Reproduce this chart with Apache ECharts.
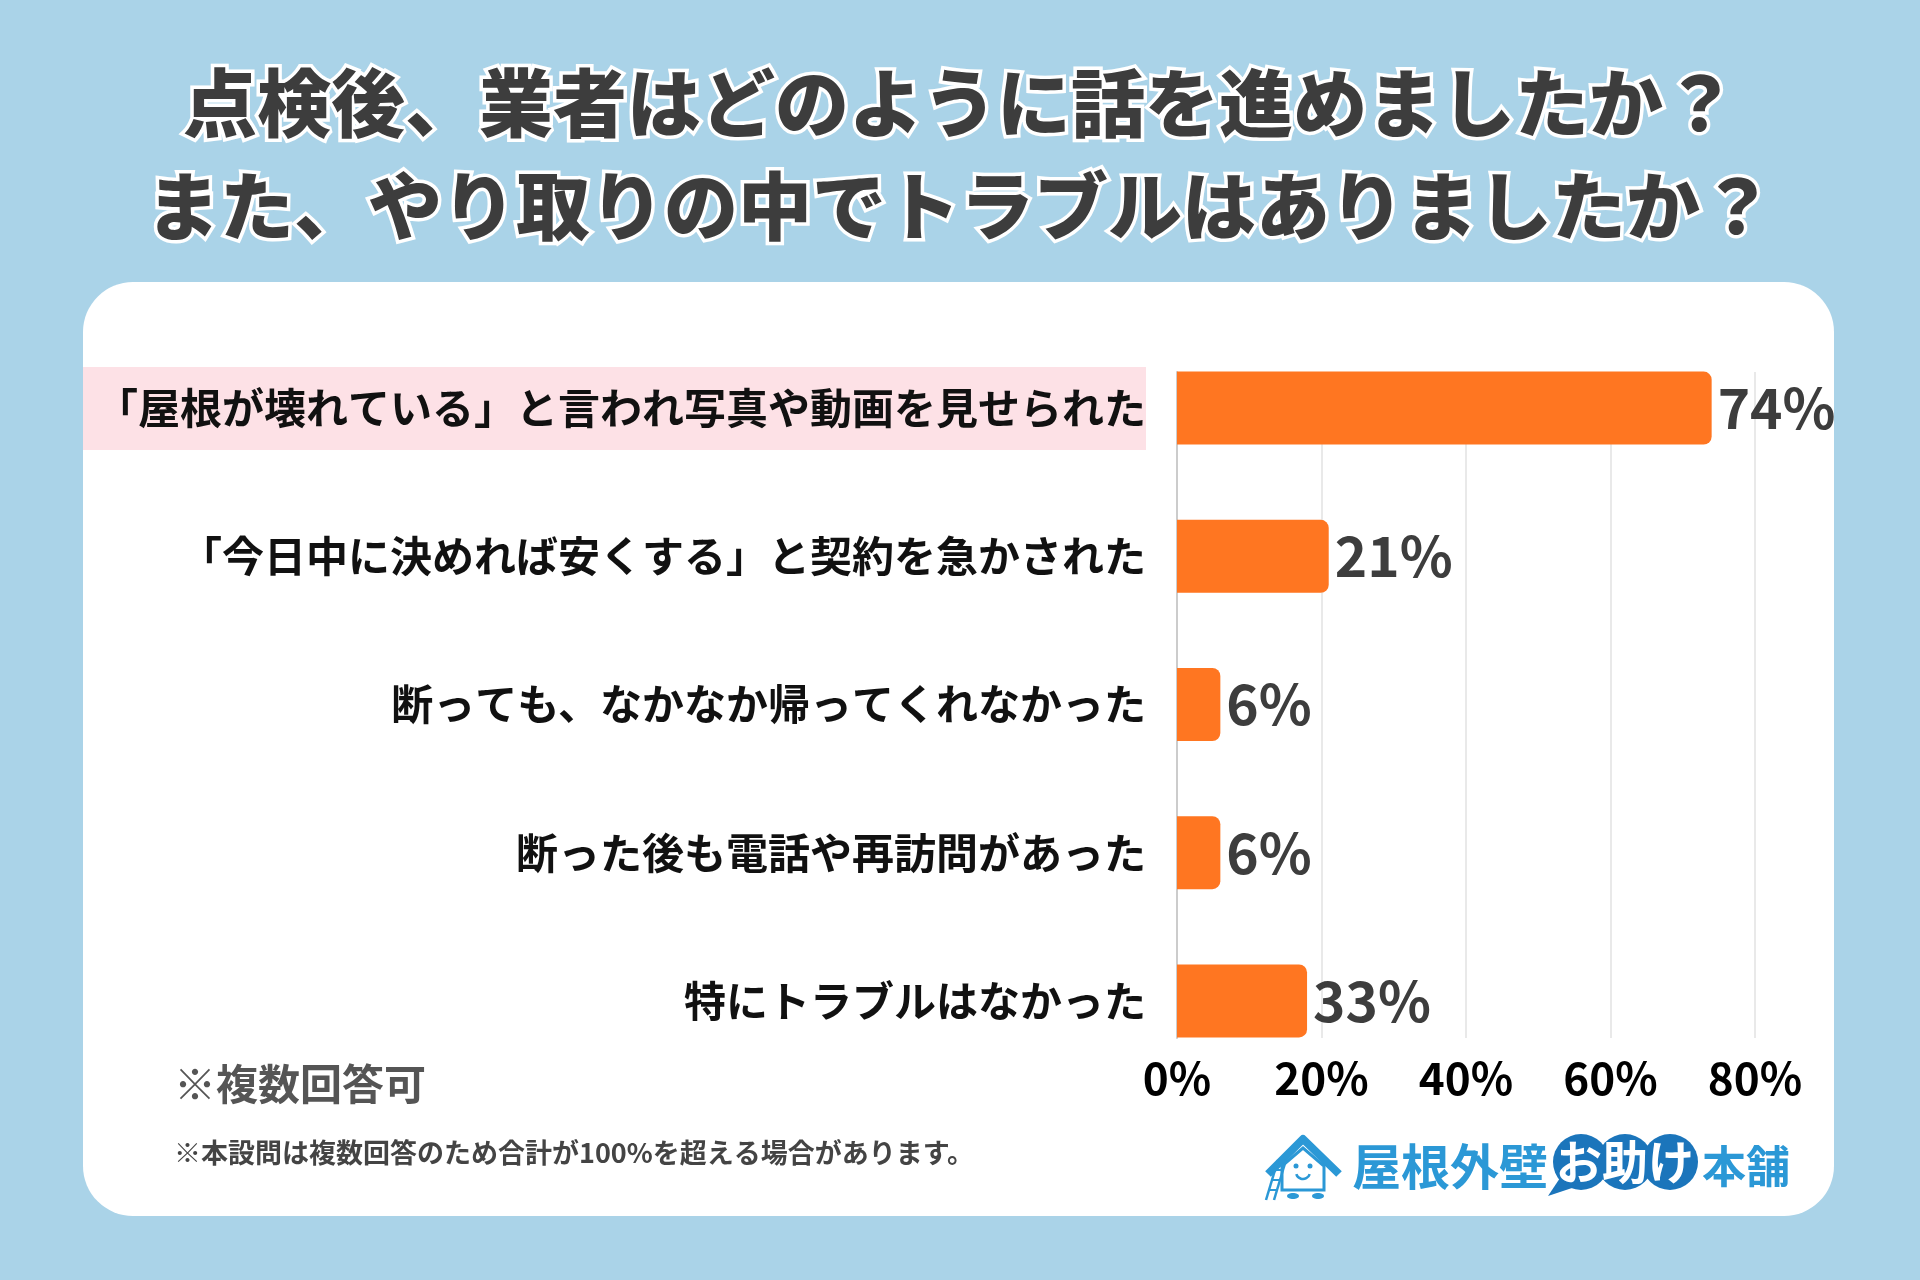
<!DOCTYPE html>
<html>
<head>
<meta charset="utf-8">
<script src="https://cdn.jsdelivr.net/npm/echarts@6/dist/echarts.min.js"></script>
<style>
html,body{margin:0;padding:0;background:#aad3e8;}
#chart{width:1920px;height:1280px;}
</style>
</head>
<body>
<div id="chart"></div>
<script>
// ---- data ----
const categories = [
  '「屋根が壊れている」と言われ写真や動画を見せられた',
  '「今日中に決めれば安くする」と契約を急かされた',
  '断っても、なかなか帰ってくれなかった',
  '断った後も電話や再訪問があった',
  '特にトラブルはなかった'
];
// bar lengths as drawn in the reference (percent of axis)
const barLengths = [74, 21, 6, 6, 18];
// values printed next to each bar (percent)
const printedValues = [74, 21, 6, 6, 33];
const axisMin = 0, axisMax = 80, axisStep = 20;
const titleLines = ['点検後、業者はどのように話を進めましたか？', 'また、やり取りの中でトラブルはありましたか？'];
const noteMain = '※複数回答可';
const noteSub = '※本設問は複数回答のため合計が100%を超える場合があります。';

const FONT = '"Noto Sans CJK JP", "Noto Sans", sans-serif';
const chart = echarts.init(document.getElementById('chart'), null, {renderer: 'canvas'});

const blue = '#2b98d6';
const darkBlue = '#1b75bb';

chart.setOption({
  backgroundColor: '#aad3e8',
  animation: false,
  title: titleLines.map((t, i) => ({
    text: t,
    left: 'center',
    top: i === 0 ? 55 : 158,
    textStyle: {
      fontFamily: FONT, fontSize: 74, fontWeight: 900, color: '#3d3d3d',
      textBorderColor: '#ffffff', textBorderWidth: 7, lineHeight: 86
    }
  })),
  graphic: [
    {type: 'rect', z: -10, shape: {x: 83, y: 282, width: 1751, height: 934, r: 50}, style: {fill: '#ffffff'}},
    {type: 'rect', z: -9, shape: {x: 83, y: 367, width: 1063, height: 83}, style: {fill: '#fde1e6'}},
    {type: 'text', style: {x: 174, y: 1084, text: noteMain, font: 'bold 42px ' + FONT, fill: '#555555', textVerticalAlign: 'middle'}},
    {type: 'text', style: {x: 174, y: 1153, text: noteSub, font: 'bold 27px ' + FONT, fill: '#444444', textVerticalAlign: 'middle'}},
    // logo
    {type: 'group', children: [
      {type: 'polyline', shape: {points: [[1268,1174],[1303,1139],[1339,1174]]}, style: {stroke: blue, lineWidth: 8, fill: null, lineJoin: 'round'}},
      {type: 'polygon', shape: {points: [[1282,1166],[1303,1148],[1324,1166],[1324,1190],[1282,1190]]}, style: {fill: '#fff', stroke: blue, lineWidth: 3}},
      {type: 'circle', shape: {cx: 1296, cy: 1166, r: 2.5}, style: {fill: blue}},
      {type: 'circle', shape: {cx: 1310, cy: 1166, r: 2.5}, style: {fill: blue}},
      {type: 'arc', shape: {cx: 1303, cy: 1172, r: 7, startAngle: 0.3, endAngle: Math.PI - 0.3}, style: {stroke: blue, lineWidth: 2.5, fill: null}},
      {type: 'line', shape: {x1: 1266, y1: 1200, x2: 1278, y2: 1160}, style: {stroke: blue, lineWidth: 2.5}},
      {type: 'line', shape: {x1: 1274, y1: 1200, x2: 1286, y2: 1160}, style: {stroke: blue, lineWidth: 2.5}},
      {type: 'line', shape: {x1: 1269, y1: 1190, x2: 1277, y2: 1190}, style: {stroke: blue, lineWidth: 2}},
      {type: 'line', shape: {x1: 1272, y1: 1180, x2: 1280, y2: 1180}, style: {stroke: blue, lineWidth: 2}},
      {type: 'line', shape: {x1: 1275, y1: 1170, x2: 1283, y2: 1170}, style: {stroke: blue, lineWidth: 2}},
      {type: 'ellipse', shape: {cx: 1293, cy: 1196, rx: 6, ry: 3}, style: {fill: blue}},
      {type: 'ellipse', shape: {cx: 1318, cy: 1196, rx: 6, ry: 3}, style: {fill: blue}},
      {type: 'text', style: {x: 1352, y: 1166, text: '屋根外壁', font: 'bold 49px ' + FONT, fill: blue, textVerticalAlign: 'middle'}},
      {type: 'circle', shape: {cx: 1581, cy: 1162, r: 28}, style: {fill: darkBlue}},
      {type: 'circle', shape: {cx: 1625, cy: 1162, r: 28}, style: {fill: darkBlue}},
      {type: 'circle', shape: {cx: 1670, cy: 1162, r: 28}, style: {fill: darkBlue}},
      {type: 'polygon', shape: {points: [[1560,1178],[1578,1186],[1548,1196]]}, style: {fill: darkBlue}},
      {type: 'text', style: {x: 1625, y: 1162, text: 'お助け', font: 'bold 46px ' + FONT, fill: '#ffffff', textAlign: 'center', textVerticalAlign: 'middle'}},
      {type: 'text', style: {x: 1702, y: 1166, text: '本舗', font: 'bold 44px ' + FONT, fill: blue, textVerticalAlign: 'middle'}}
    ]}
  ],
  grid: [
    {left: 1177, right: 165, top: 334, height: 741},
    {left: 1177, right: 165, top: 372, bottom: 242}
  ],
  xAxis: [
    {gridIndex: 0, type: 'value', min: axisMin, max: axisMax, show: false},
    {gridIndex: 1, type: 'value', min: axisMin, max: axisMax, interval: axisStep,
     axisLine: {show: false}, axisTick: {show: false},
     splitLine: {show: true, lineStyle: {color: '#e2e2e2', width: 1.5}},
     axisLabel: {formatter: '{value}%', fontFamily: FONT, fontSize: 44, fontWeight: 'bold', color: '#000000', margin: 18}}
  ],
  yAxis: [
    {gridIndex: 0, type: 'category', data: categories, inverse: true,
     axisLine: {show: false}, axisTick: {show: false}, splitLine: {show: false},
     axisLabel: {fontFamily: FONT, fontSize: 42, fontWeight: 'bold', color: '#111111', margin: 31}},
    {gridIndex: 1, type: 'value', min: 0, max: 1,
     axisLine: {show: true, lineStyle: {color: '#cccccc', width: 2}},
     axisTick: {show: false}, axisLabel: {show: false}, splitLine: {show: false}}
  ],
  series: [{
    type: 'bar',
    xAxisIndex: 0, yAxisIndex: 0,
    data: barLengths,
    barWidth: 73,
    z: 3,
    itemStyle: {color: '#ff7621', borderRadius: [0, 8, 8, 0]},
    label: {
      show: true, position: 'right', distance: 6,
      formatter: p => printedValues[p.dataIndex] + '%',
      fontFamily: FONT, fontSize: 55, fontWeight: 'bold', color: '#3d3d3d'
    }
  }]
});
</script>
</body>
</html>
